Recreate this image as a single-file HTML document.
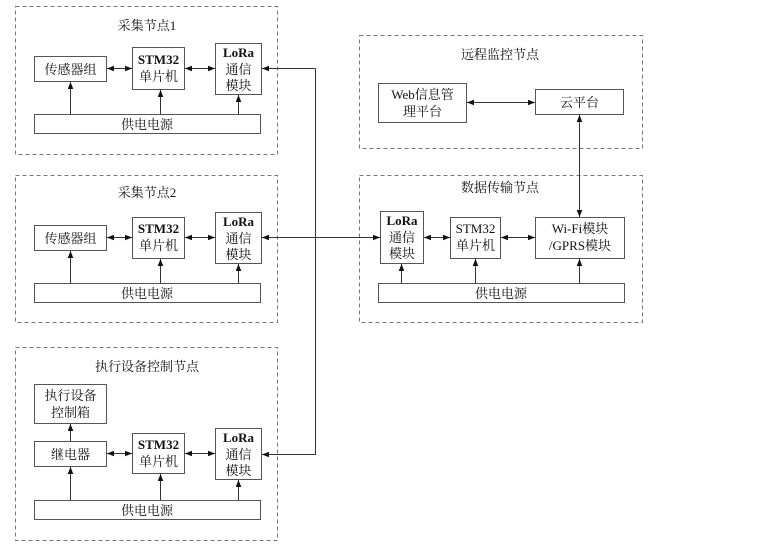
<!DOCTYPE html>
<html><head><meta charset="utf-8"><style>
html,body{margin:0;padding:0;background:#fff;}
svg{display:block;}
text{font-family:"Liberation Serif","Noto Serif CJK SC",serif;font-size:13px;fill:#111;}
.b{font-weight:bold;}
</style></head><body>
<svg width="777" height="546" viewBox="0 0 777 546" xmlns="http://www.w3.org/2000/svg">
<defs>
<marker id="a" viewBox="0 0 10 10" refX="10" refY="5" markerWidth="7" markerHeight="7" orient="auto-start-reverse" markerUnits="userSpaceOnUse"><path d="M0,1 L10,5 L0,9 z" fill="#111"/></marker>
</defs>
<g fill="none" stroke="#777" stroke-width="1" stroke-dasharray="4,3">
<rect x="15.5" y="6.5" width="262" height="148"/>
<rect x="15.5" y="175.5" width="262" height="147"/>
<rect x="15.5" y="347.5" width="262" height="193"/>
<rect x="359.5" y="35.5" width="283" height="113"/>
<rect x="359.5" y="175.5" width="283" height="147"/>
</g>
<g fill="#fff" stroke="#555" stroke-width="1">
<!-- node1 -->
<rect x="34.5" y="56.5" width="72" height="25"/>
<rect x="132.5" y="47.5" width="52" height="42"/>
<rect x="215.5" y="43.5" width="46" height="51"/>
<rect x="34.5" y="114.5" width="226" height="19"/>
<!-- node2 -->
<rect x="34.5" y="225.5" width="72" height="25"/>
<rect x="132.5" y="217.5" width="52" height="41"/>
<rect x="215.5" y="212.5" width="46" height="51"/>
<rect x="34.5" y="283.5" width="226" height="19"/>
<!-- exec -->
<rect x="34.5" y="384.5" width="72" height="39"/>
<rect x="34.5" y="441.5" width="72" height="25"/>
<rect x="132.5" y="433.5" width="52" height="40"/>
<rect x="215.5" y="428.5" width="46" height="51"/>
<rect x="34.5" y="500.5" width="226" height="19"/>
<!-- remote -->
<rect x="378.5" y="83.5" width="88" height="39"/>
<rect x="535.5" y="89.5" width="88" height="25"/>
<!-- data -->
<rect x="380.5" y="211.5" width="43" height="52"/>
<rect x="450.5" y="217.5" width="50" height="41"/>
<rect x="535.5" y="217.5" width="89" height="41"/>
<rect x="378.5" y="283.5" width="246" height="19"/>
</g>
<g stroke="#333" stroke-width="1" fill="none">
<!-- node1 -->
<line x1="107" y1="68.5" x2="132" y2="68.5" marker-start="url(#a)" marker-end="url(#a)"/>
<line x1="185" y1="68.5" x2="215" y2="68.5" marker-start="url(#a)" marker-end="url(#a)"/>
<line x1="70.5" y1="114" x2="70.5" y2="82" marker-end="url(#a)"/>
<line x1="160.5" y1="114" x2="160.5" y2="90" marker-end="url(#a)"/>
<line x1="238.5" y1="114" x2="238.5" y2="95" marker-end="url(#a)"/>
<!-- node2 -->
<line x1="107" y1="237.5" x2="132" y2="237.5" marker-start="url(#a)" marker-end="url(#a)"/>
<line x1="185" y1="237.5" x2="215" y2="237.5" marker-start="url(#a)" marker-end="url(#a)"/>
<line x1="70.5" y1="283" x2="70.5" y2="251" marker-end="url(#a)"/>
<line x1="160.5" y1="283" x2="160.5" y2="259" marker-end="url(#a)"/>
<line x1="238.5" y1="283" x2="238.5" y2="264" marker-end="url(#a)"/>
<!-- exec -->
<line x1="107" y1="453.5" x2="132" y2="453.5" marker-start="url(#a)" marker-end="url(#a)"/>
<line x1="185" y1="453.5" x2="215" y2="453.5" marker-start="url(#a)" marker-end="url(#a)"/>
<line x1="70.5" y1="441" x2="70.5" y2="424" marker-end="url(#a)"/>
<line x1="70.5" y1="500" x2="70.5" y2="467" marker-end="url(#a)"/>
<line x1="160.5" y1="500" x2="160.5" y2="474" marker-end="url(#a)"/>
<line x1="238.5" y1="500" x2="238.5" y2="480" marker-end="url(#a)"/>
<!-- links -->
<polyline points="315.5,68.5 315.5,454.5 262,454.5" marker-end="url(#a)"/>
<line x1="315.5" y1="68.5" x2="262" y2="68.5" marker-end="url(#a)"/>
<line x1="262" y1="237.5" x2="380" y2="237.5" marker-start="url(#a)" marker-end="url(#a)"/>
<!-- data -->
<line x1="424" y1="237.5" x2="450" y2="237.5" marker-start="url(#a)" marker-end="url(#a)"/>
<line x1="501" y1="237.5" x2="535" y2="237.5" marker-start="url(#a)" marker-end="url(#a)"/>
<line x1="401.5" y1="283" x2="401.5" y2="264" marker-end="url(#a)"/>
<line x1="475.5" y1="283" x2="475.5" y2="259" marker-end="url(#a)"/>
<line x1="579.5" y1="283" x2="579.5" y2="259" marker-end="url(#a)"/>
<!-- remote -->
<line x1="467" y1="102.5" x2="535" y2="102.5" marker-start="url(#a)" marker-end="url(#a)"/>
<line x1="579.5" y1="115" x2="579.5" y2="217" marker-start="url(#a)" marker-end="url(#a)"/>
</g>
<g text-anchor="middle">
<text x="147" y="30">采集节点1</text>
<text x="70.5" y="74">传感器组</text>
<text x="158.5" y="64" class="b">STM32</text><text x="158.5" y="81">单片机</text>
<text x="238.5" y="57" class="b">LoRa</text><text x="238.5" y="74">通信</text><text x="238.5" y="90">模块</text>
<text x="147" y="129">供电电源</text>

<text x="147" y="197">采集节点2</text>
<text x="70.5" y="243">传感器组</text>
<text x="158.5" y="233" class="b">STM32</text><text x="158.5" y="250">单片机</text>
<text x="238.5" y="226" class="b">LoRa</text><text x="238.5" y="243">通信</text><text x="238.5" y="259">模块</text>
<text x="147" y="298">供电电源</text>

<text x="147" y="371">执行设备控制节点</text>
<text x="70.5" y="400">执行设备</text><text x="70.5" y="417">控制箱</text>
<text x="70.5" y="459">继电器</text>
<text x="158.5" y="449" class="b">STM32</text><text x="158.5" y="466">单片机</text>
<text x="238.5" y="442" class="b">LoRa</text><text x="238.5" y="459">通信</text><text x="238.5" y="475">模块</text>
<text x="147" y="515">供电电源</text>

<text x="500" y="59">远程监控节点</text>
<text x="422.5" y="99">Web信息管</text><text x="422.5" y="116">理平台</text>
<text x="579.5" y="107">云平台</text>

<text x="500" y="192">数据传输节点</text>
<text x="402" y="225" class="b">LoRa</text><text x="402" y="242">通信</text><text x="402" y="258">模块</text>
<text x="475.5" y="233">STM32</text><text x="475.5" y="250">单片机</text>
<text x="580" y="233">Wi-Fi模块</text><text x="580" y="250">/GPRS模块</text>
<text x="501" y="298">供电电源</text>
</g>
</svg>
</body></html>
